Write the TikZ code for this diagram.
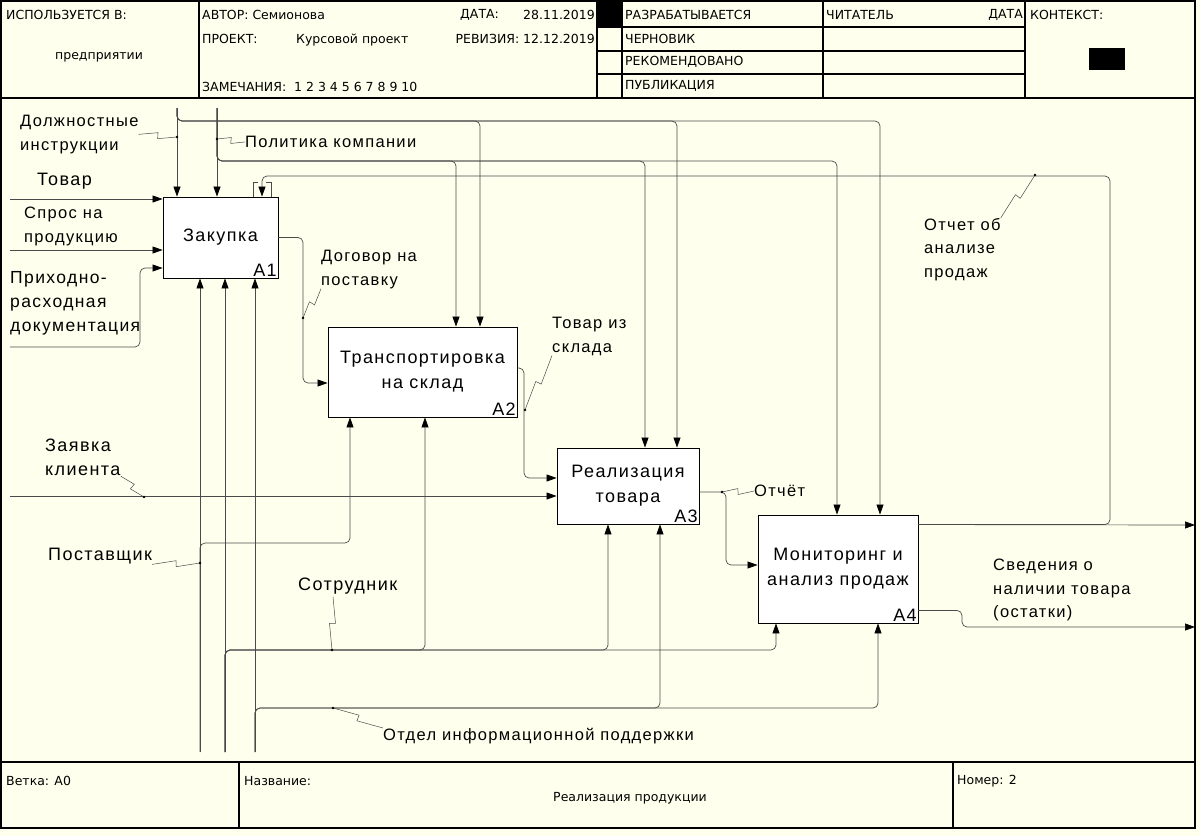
\documentclass[tikz,border=0pt]{standalone}
\usepackage{fontspec}
\setmainfont{Liberation Sans}
\newfontfamily\lblfont[LetterSpace=8]{Liberation Sans}
\newfontfamily\hdrfont{DejaVu Sans}
\usetikzlibrary{arrows.meta,calc}

\definecolor{paper}{HTML}{FFFFEE}
\definecolor{wire}{HTML}{4A4A4A}

\tikzset{
  frame/.style={draw=black, line width=1.2pt},
  func/.style={draw=black, fill=white, line width=0.9pt, align=center, inner sep=0pt,
    font=\lblfont\fontsize{18}{25}\selectfont},
  num/.style={anchor=south east, inner sep=1.5pt, font=\lblfont\fontsize{18}{20}\selectfont},
  flow/.style={draw=wire, line width=0.7pt, rounded corners=5pt},
  into/.style={flow, -{Triangle[length=10pt,width=7pt,color=black,fill=black]}},
  lbl/.style={anchor=north west, align=left, inner sep=0pt,
    font=\lblfont\fontsize{16.5}{23.5}\selectfont},
  biglbl/.style={lbl, font=\lblfont\fontsize{18}{24}\selectfont},
  hdr/.style={anchor=west, inner sep=0pt, font=\hdrfont\fontsize{12.5}{14}\selectfont},
  squig/.style={draw=wire, line width=0.5pt},
  dot/.style={fill=black},
}

\begin{document}
\begin{tikzpicture}[x=1pt,y=-1pt]

    \useasboundingbox (0,0) rectangle (1200,836);
    \fill[paper] (0,0) rectangle (1200,836);

    % Ramka
    \draw[frame] (1,1) rectangle (1195,828);
    \draw[frame] (1,98) -- (1195,98);
    \draw[frame] (1,762) -- (1195,762);
    \foreach \x in {199,597,622,823,1025}{
        \draw[frame] (\x,1) -- (\x,98);
    }
    \foreach \y in {27,51,74}{
        \draw[frame] (597,\y) -- (1025,\y);
    }
    \foreach \x in {239,953}{
        \draw[frame] (\x,762) -- (\x,828);
    }
    \fill (597,1) rectangle (622,27);
    \fill (1089,48) rectangle (1125,70);

    % Shapka
    \node[hdr] (hused) at (6,15) {ИСПОЛЬЗУЕТСЯ В:};
    \node[hdr, anchor=center] (hplace) at (99,57) {предприятии};
    \node[hdr] (hauthor) at (202,15) {АВТОР: Семионова};
    \node[hdr] (hproj) at (202,39) {ПРОЕКТ:};
    \node[hdr] (hprojname) at (296,40) {Курсовой проект};
    \node[hdr] (hnotes) at (202,87) {ЗАМЕЧАНИЯ:\ \ 1 2 3 4 5 6 7 8 9 10};
    \node[hdr] (hdate) at (460,15) {ДАТА:};
    \node[hdr, anchor=east] (hdateval) at (595,15) {28.11.2019};
    \node[hdr, anchor=east] (hrev) at (595,39) {РЕВИЗИЯ: 12.12.2019};
    \node[hdr] (hwork) at (625,15) {РАЗРАБАТЫВАЕТСЯ};
    \node[hdr] (hdraft) at (625,39) {ЧЕРНОВИК};
    \node[hdr] (hrec) at (625,62) {РЕКОМЕНДОВАНО};
    \node[hdr] (hpub) at (625,86) {ПУБЛИКАЦИЯ};
    \node[hdr] (hreader) at (826,15) {ЧИТАТЕЛЬ};
    \node[hdr, anchor=east] (hrdate) at (1023,15) {ДАТА};
    \node[hdr] (hctx) at (1030,15) {КОНТЕКСТ:};

    % Podval
    \node[hdr] (fnode) at (6,781) {Ветка: A0};
    \node[hdr] (fname) at (244,781) {Название:};
    \node[hdr, anchor=center] (ftitle) at (630,798) {Реализация продукции};
    \node[hdr] (fnum) at (957,781) {Номер: 2};

    % ---- Bloki ----
    \node[func, minimum width=115, minimum height=81] (a1) at (220.5,237.5) {Закупка};
    \node[func, minimum width=189, minimum height=90] (a2) at (422.5,372) {Транспортировка\\на склад};
    \node[func, minimum width=142, minimum height=76] (a3) at (628,486) {Реализация\\товара};
    \node[func, minimum width=160, minimum height=108] (a4) at (838,569) {Мониторинг и\\анализ продаж};
    \node[num] (a1n) at (a1.south east) {A1};
    \node[num] (a2n) at (a2.south east) {A2};
    \node[num] (a3n) at (a3.south east) {A3};
    \node[num] (a4n) at (a4.south east) {A4};

    % Granichnye tochki
    \coordinate (ctl1) at (177,108);
    \coordinate (ctl2) at (217,108);
    \coordinate (in1) at (10,199);
    \coordinate (in2) at (10,250);
    \coordinate (in3) at (10,347);
    \coordinate (in4) at (10,496);
    \coordinate (out1) at (1195,525);
    \coordinate (out2) at (1195,627);
    \coordinate (mech1) at (200,752);
    \coordinate (mech2) at (225,752);
    \coordinate (mech3) at (255,752);

    % Upravlenie
    \draw[into] (ctl1) -- (ctl1 |- a1.north);
    \draw[into] (ctl1) |- (480,121) -- (480,0 |- a2.north);
    \draw[into] (ctl1) |- (677,121) -- (677,0 |- a3.north);
    \draw[into] (ctl1) |- (880,121) -- (880,0 |- a4.north);
    \draw[into] (ctl2) -- (ctl2 |- a1.north);
    \draw[into] (ctl2) |- (456,161) -- (456,0 |- a2.north);
    \draw[into] (ctl2) |- (645,161) -- (645,0 |- a3.north);
    \draw[into] (ctl2) |- (837,161) -- (837,0 |- a4.north);

    % Vhody
    \draw[into] (in1) -- (in1 -| a1.west);
    \draw[into] (in2) -- (in2 -| a1.west);
    \draw[into] (in3) -| (140,268) -- (140,268 -| a1.west);
    \draw[into] (in4) -- (in4 -| a3.west);

    % Svyazi mezhdu blokami
    \draw[into] (a1.east) -| (303,383) -- (303,383 -| a2.west);
    \draw[into] ($(a2.east)+(0,-4)$) -| (524,478) -- (524,478 -| a3.west);
    \draw[into] ($(a3.east)+(0,6)$) -| (726,565) -- (726,565 -| a4.west);

    % Vyhody
    \draw[into] ($(a4.north east)+(0,10)$) -- (out1);
    \draw[into] ($(a4.north east)+(0,10)$) -| (1110,176) -| (262,0 |- a1.north);
    \draw[into] ($(a4.south east)+(0,-13)$) -| (962,627) -- (out2);
    \draw[draw=wire, line width=0.5pt] (258,182) -| (253,197);
    \draw[draw=wire, line width=0.5pt] (266,182) -| (271,197);

    % Mehanizmy
    \draw[into] (mech1) -- (mech1 |- a1.south);
    \draw[into] (mech1) |- (350,543) -- (350,0 |- a2.south);
    \draw[into] (mech2) -- (mech2 |- a1.south);
    \draw[into] (mech2) |- (425,650) -- (425,0 |- a2.south);
    \draw[into] (mech2) |- (608,650) -- (608,0 |- a3.south);
    \draw[into] (mech2) |- (776,650) -- (776,0 |- a4.south);
    \draw[into] (mech3) -- (mech3 |- a1.south);
    \draw[into] (mech3) |- (660,708) -- (660,0 |- a3.south);
    \draw[into] (mech3) |- (878,708) -- (878,0 |- a4.south);

    % ---- Podpisi ----
    \node[lbl] (ljob) at (20,115) {Должностные\\инструкции};
    \node[lbl] (lpolicy) at (245,136) {Политика компании};
    \node[biglbl] (lgoods) at (37,173) {Товар};
    \node[lbl] (ldemand) at (24,207) {Спрос на\\продукцию};
    \node[biglbl, font=\lblfont\fontsize{17.5}{24}\selectfont] (ldocs) at (10,271) {Приходно-\\расходная\\документация};
    \node[lbl] (lcontract) at (321,250) {Договор на\\поставку};
    \node[lbl] (lstock) at (552,317) {Товар из\\склада};
    \node[biglbl] (lorder) at (45,439) {Заявка\\клиента};
    \node[lbl] (lreport) at (754,485) {Отчёт};
    \node[lbl] (lanalysis) at (924,218) {Отчет об\\анализе\\продаж};
    \node[biglbl] (lsupplier) at (48,548) {Поставщик};
    \node[biglbl] (lstaff) at (298,578) {Сотрудник};
    \node[lbl] (lit) at (383,728) {Отдел информационной поддержки};
    \node[lbl] (lrest) at (993,559) {Сведения о\\наличии товара\\(остатки)};

    % Tochki privyazki
    \coordinate (djob) at (177,137);
    \coordinate (dpolicy) at (217,139);
    \coordinate (dcontract) at (303,318);
    \coordinate (dstock) at (525,410);
    \coordinate (dorder) at (144,497);
    \coordinate (dreport) at (722,492);
    \coordinate (danalysis) at (1035,175);
    \coordinate (dsupplier) at (200,563);
    \coordinate (dstaff) at (332,650);
    \coordinate (dit) at (333,708);
    \coordinate (sstaff) at ($(lstaff.south west)+(35,2)$);

    \foreach \from/\to in {ljob.east/djob, lpolicy.west/dpolicy,
        lcontract.south west/dcontract, lstock.south west/dstock,
        lorder.south east/dorder, lreport.west/dreport,
        lanalysis.north east/danalysis, lsupplier.south east/dsupplier,
        sstaff/dstaff, lit.north west/dit}{
        \draw[squig] (\from) -- ($(\from)!0.5!(\to)!3pt!90:(\to)$)
            -- ($(\from)!0.5!(\to)!3pt!-90:(\to)$) -- (\to);
        \fill[dot] (\to) circle[radius=1.4pt];
    }

\end{tikzpicture}
\end{document}
